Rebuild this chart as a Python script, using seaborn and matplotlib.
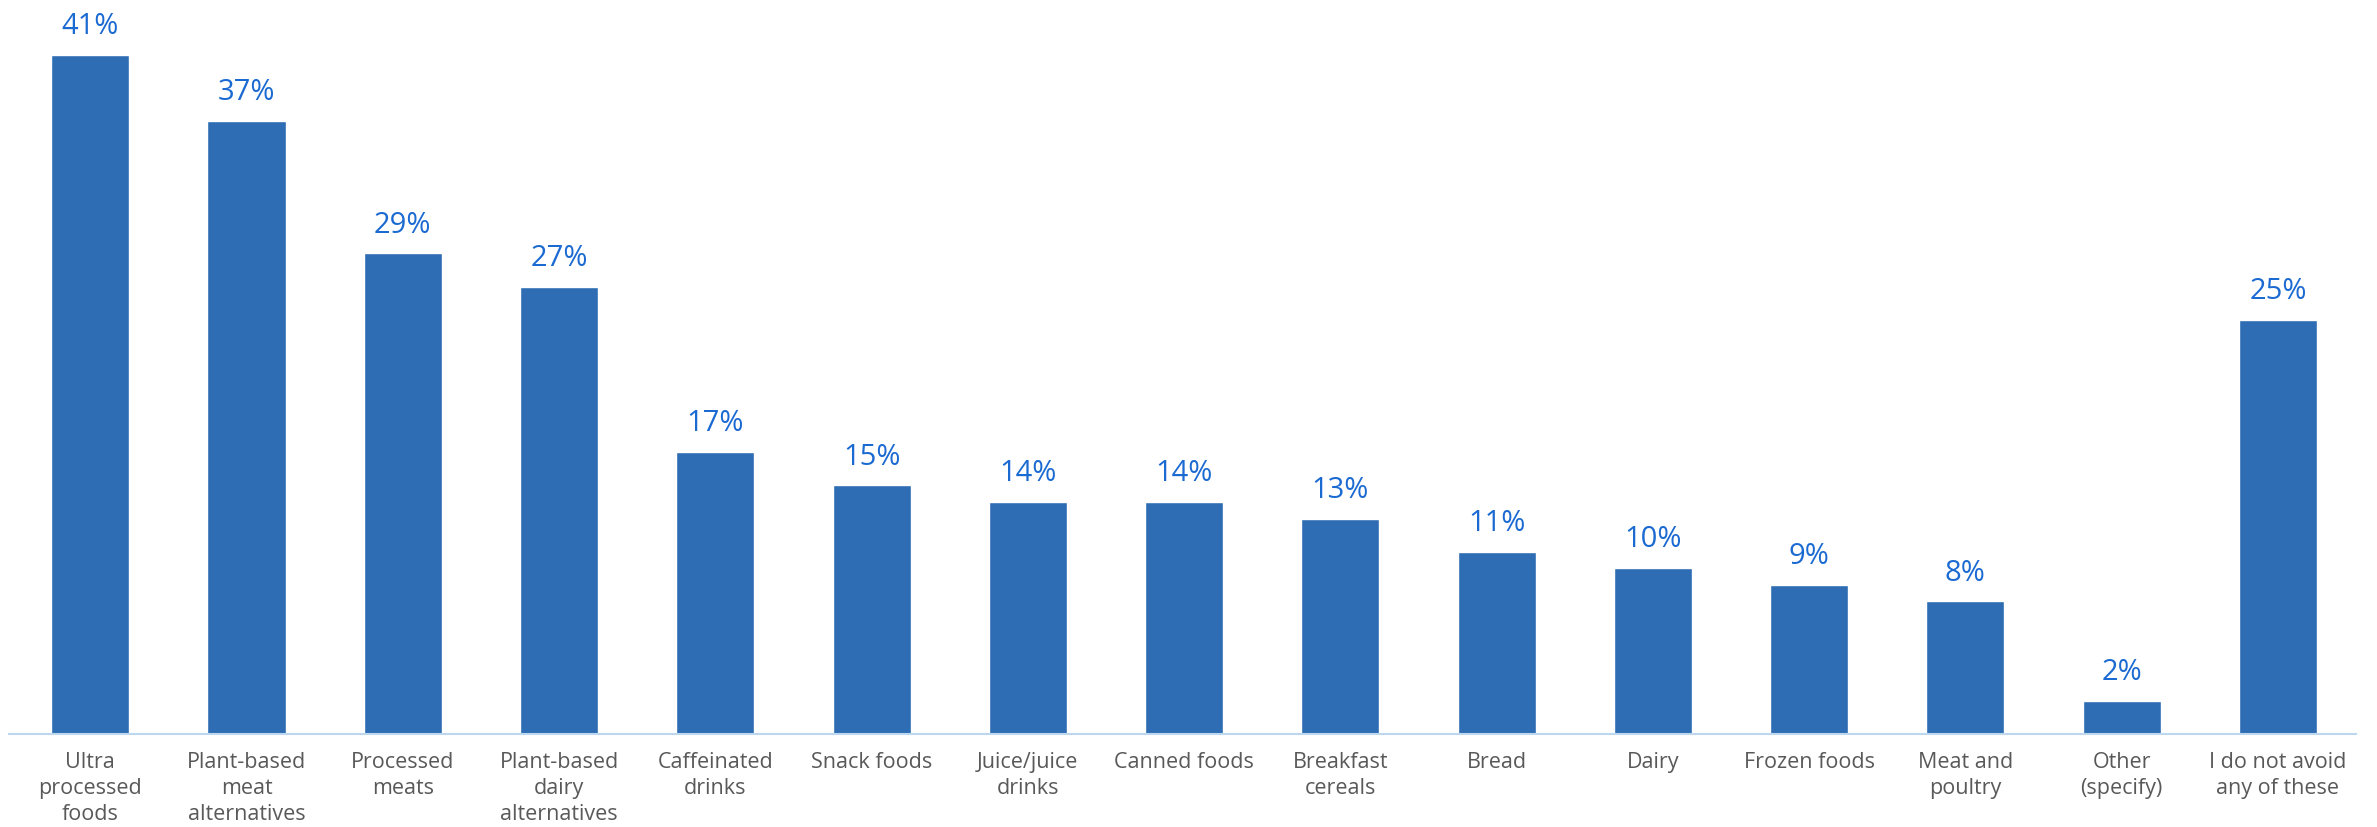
import pandas as pd
import matplotlib.pyplot as plt
import seaborn as sns

sns.set_style("white")
plt.rcParams["font.family"] = ["Open Sans", "DejaVu Sans"]

categories = [
    "Ultra\nprocessed\nfoods", "Plant-based\nmeat\nalternatives", "Processed\nmeats",
    "Plant-based\ndairy\nalternatives", "Caffeinated\ndrinks", "Snack foods",
    "Juice/juice\ndrinks", "Canned foods", "Breakfast\ncereals", "Bread", "Dairy",
    "Frozen foods", "Meat and\npoultry", "Other\n(specify)", "I do not avoid\nany of these",
]
values = [41, 37, 29, 27, 17, 15, 14, 14, 13, 11, 10, 9, 8, 2, 25]

df = pd.DataFrame({"category": categories, "pct": values})

fig = plt.figure(figsize=(23.77, 8.27), dpi=100)
ax = fig.add_axes([0.0038, 0.1125, 0.9874, 0.8875])

sns.barplot(data=df, x="category", y="pct", color="#2E6DB4", width=0.5,
            saturation=1, ax=ax)

for i, v in enumerate(values):
    ax.annotate(f"{v}%", (i, v), xytext=(0, 10), textcoords="offset points",
                ha="center", va="bottom", fontsize=21, color="#1B6AD2")

ax.set_xlim(-0.52, 14.5)
ax.set_ylim(0, 44.3)
ax.set_xlabel("")
ax.set_ylabel("")
ax.set_yticks([])
ax.tick_params(axis="x", length=0, pad=13, labelsize=15.5, labelcolor="#595959")
for lbl in ax.get_xticklabels():
    lbl.set_linespacing(1.3)
for side in ["top", "right", "left"]:
    ax.spines[side].set_visible(False)
ax.spines["bottom"].set_color("#BDD7EE")
ax.spines["bottom"].set_linewidth(1.5)

fig.savefig("out.png", dpi=100)
